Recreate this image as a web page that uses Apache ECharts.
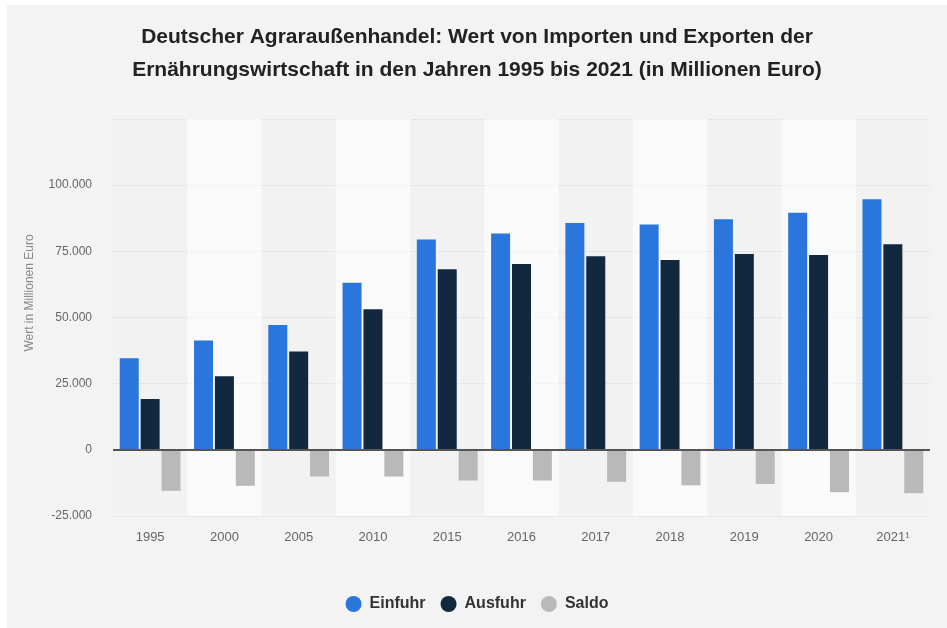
<!DOCTYPE html>
<html>
<head>
<meta charset="utf-8">
<script src="https://cdn.jsdelivr.net/npm/echarts@6/dist/echarts.min.js"></script>
<style>
  html, body { margin: 0; padding: 0; background: #ffffff; }
  #chart { position: absolute; left: 7px; top: 5px; width: 940px; height: 623px; }
</style>
</head>
<body>
<div id="chart"></div>
<script>
const years = ['1995', '2000', '2005', '2010', '2015', '2016', '2017', '2018', '2019', '2020', '2021¹'];
const einfuhr = [34600, 41300, 47200, 63100, 79500, 81700, 85700, 85100, 87100, 89600, 94700];
const ausfuhr = [19200, 27800, 37200, 53100, 68200, 70200, 73100, 71700, 74000, 73600, 77700];
const saldo = [-15500, -13600, -10100, -10100, -11600, -11600, -12100, -13400, -12900, -16000, -16400];

const chart = echarts.init(document.getElementById('chart'));

function fmt(v) {
  if (v === 125000) return '';
  return String(v).replace(/\B(?=(\d{3})+(?!\d))/g, '.');
}

chart.setOption({
  backgroundColor: '#f3f3f3',
  animation: false,
  textStyle: { fontFamily: 'Liberation Sans' },
  title: {
    text: 'Deutscher Agraraußenhandel: Wert von Importen und Exporten der\nErnährungswirtschaft in den Jahren 1995 bis 2021 (in Millionen Euro)',
    left: 'center',
    top: 11,
    textStyle: { fontSize: 21, fontWeight: 'bold', color: '#222', lineHeight: 33 }
  },
  legend: {
    bottom: 11,
    left: 'center',
    icon: 'circle',
    itemWidth: 16,
    itemHeight: 16,
    itemGap: 15,
    textStyle: { fontSize: 16, fontWeight: 'bold', color: '#333', padding: [0, 0, 0, 3] },
    data: ['Einfuhr', 'Ausfuhr', 'Saldo']
  },
  graphic: [{
    type: 'text',
    x: 23,
    y: 288,
    rotation: Math.PI / 2,
    style: {
      text: 'Wert in Millionen Euro',
      fill: '#888',
      fontSize: 12,
      fontFamily: 'Liberation Sans',
      align: 'center',
      verticalAlign: 'middle'
    }
  }],
  grid: { left: 106, right: 17, top: 114, bottom: 112 },
  xAxis: {
    type: 'category',
    data: years,
    axisLine: { show: false },
    axisTick: { show: false },
    axisLabel: { color: '#666', fontSize: 13, margin: 15 },
    splitArea: { show: true, areaStyle: { color: ['rgba(0,0,0,0.005)', 'rgba(255,255,255,0.55)'] } }
  },
  yAxis: {
    type: 'value',
    min: -25000,
    max: 125000,
    interval: 25000,
    axisLine: { show: false },
    axisTick: { show: false },
    axisLabel: { color: '#666', fontSize: 12, margin: 21, formatter: fmt },
    splitLine: { lineStyle: { color: '#dcdcdc', type: 'dotted', width: 1 } }
  },
  series: [
    {
      name: 'Einfuhr',
      type: 'bar',
      data: einfuhr,
      barWidth: 19,
      barGap: '10%',
      itemStyle: { color: '#2a76dc' },
      markLine: {
        silent: true,
        symbol: 'none',
        label: { show: false },
        lineStyle: { color: '#555', type: 'solid', width: 2 },
        data: [{ yAxis: 0 }]
      }
    },
    {
      name: 'Ausfuhr',
      type: 'bar',
      data: ausfuhr,
      barWidth: 19,
      itemStyle: { color: '#11283f' }
    },
    {
      name: 'Saldo',
      type: 'bar',
      data: saldo,
      barWidth: 19,
      itemStyle: { color: '#b9b9b9' }
    }
  ]
});
</script>
</body>
</html>
